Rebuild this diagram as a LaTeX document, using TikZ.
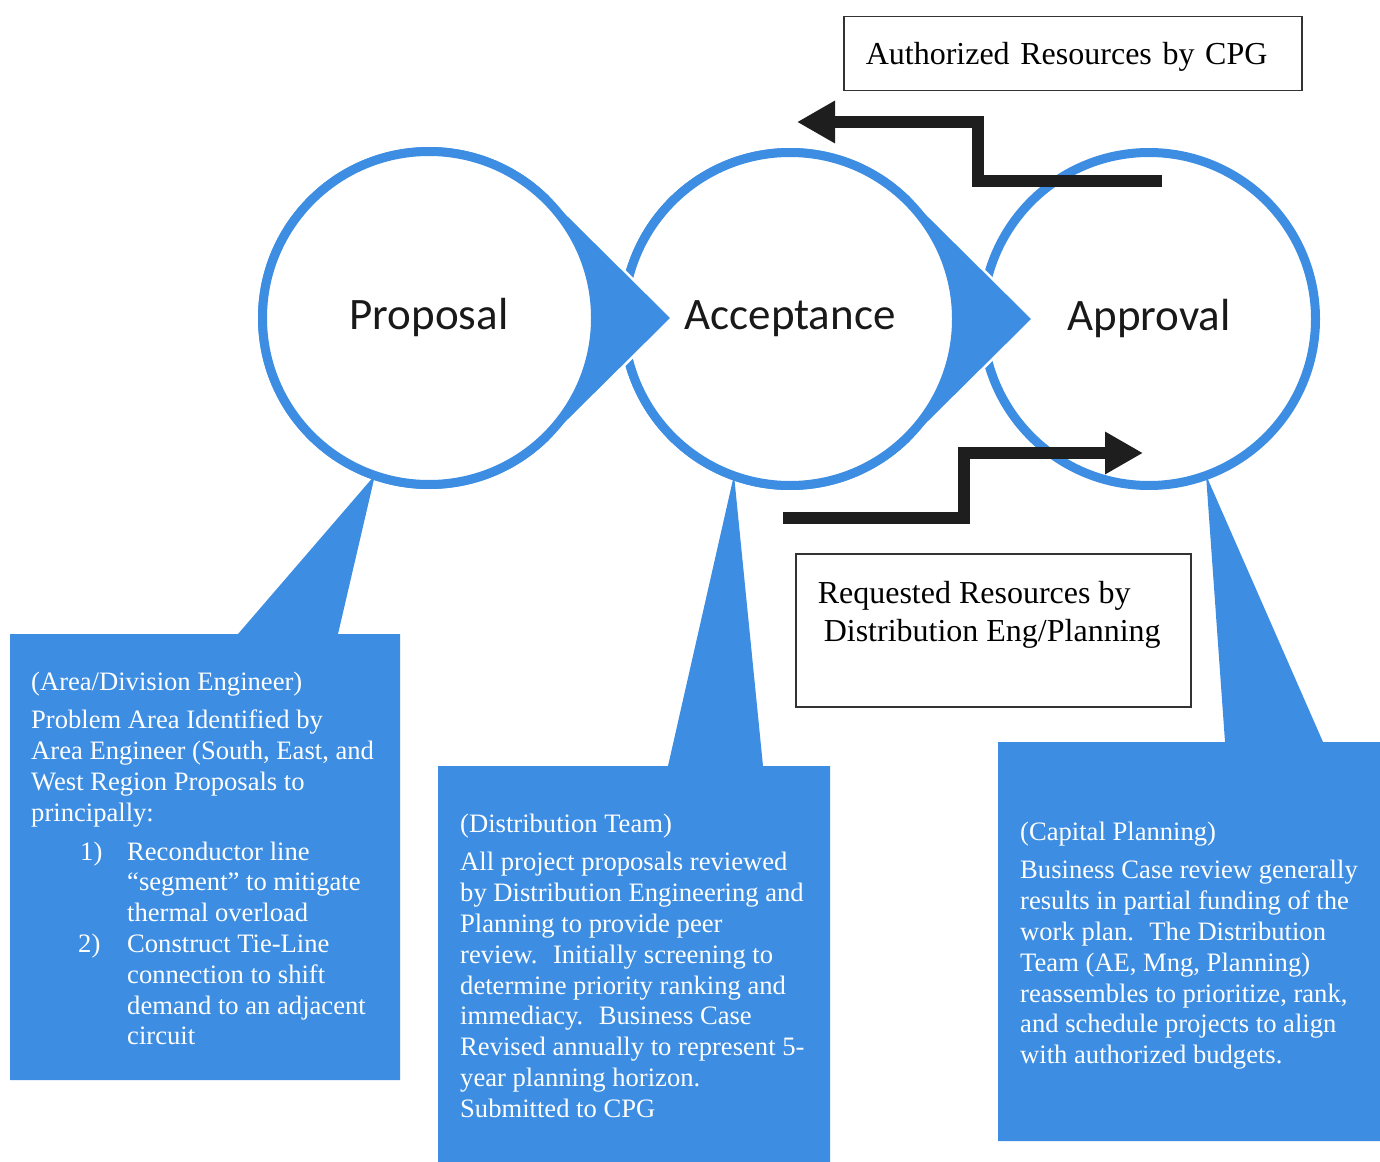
\documentclass[tikz,border=0pt]{standalone}
\usepackage{fontspec}
\usepackage{xcolor}
\usepackage{tikz}
\usetikzlibrary{calc, arrows.meta, positioning}

\newfontfamily\stagefont{Carlito}
\newfontfamily\notefont{Liberation Serif}

\definecolor{stageBlue}{RGB}{61,142,226}
\definecolor{arrowBlack}{RGB}{30,30,30}

\tikzset{
	stage/.style = {circle, draw = stageBlue, fill = white, line width = 9pt, minimum size = 333pt, inner sep = 0pt,
		font = \stagefont\fontsize{45}{54}\selectfont, text = black!90},
	note/.style = {anchor = north west, inner sep = 0pt, align = left, text = white,
		font = \notefont\fontsize{26.6}{30.8}\selectfont},
	resbox/.style = {draw = black!80, line width = 1.5pt, inner xsep = 22pt, inner ysep = 0pt,
		font = \notefont\fontsize{32}{38}\selectfont, align = left},
	resarrow/.style = {draw = arrowBlack, line width = 12pt, -{Triangle[length = 38pt, width = 40pt]}}
}

\begin{document}
\begin{tikzpicture}[x = 1pt, y = -1pt]
	\def\ringO{171};
	\def\tipD{243};
	\def\tipA{45.3};
	\def\tipB{314.7};

	\newcommand{\drawPointer}[1]
	{
		\fill [stageBlue] ($(#1)+(\tipD,0)$) -- ($(#1)+(\tipA:\ringO)$)
			arc [start angle = \tipA, end angle = \tipB, radius = \ringO] -- cycle;
		\draw [white, line width = 2.5pt] ($(#1)+(\tipB:\ringO)$) -- ($(#1)+(\tipD,0)$) -- ($(#1)+(\tipA:\ringO)$)
	}

	% left, top, right, bottom, pointer base left, pointer tip, pointer base right
	\newcommand{\drawCallout}[7]
	{
		\fill [stageBlue] (#1,#2) -- (#5,#2) -- (#6) -- (#7,#2) -- (#3,#2) -- (#3,#4) -- (#1,#4) -- cycle
	}

	\useasboundingbox (0,0) rectangle (1380,1161);

	\begin{scope}
		\drawCallout{10}{634}{400}{1080}{238}{375,475}{338};
		\drawCallout{438}{766}{830}{1180}{668}{734,475}{763};
		\drawCallout{998}{742}{1400}{1141}{1225}{1206,475}{1323};
	\end{scope}

	\coordinate (proC) at (429,318);
	\coordinate (accC) at (790,319);
	\coordinate (appC) at (1149,319);

	\begin{scope}
		\node [stage] (approval) at (appC) {Approval};
		\drawPointer{accC};
		\node [stage] (acceptance) at (accC) {Acceptance};
		\drawPointer{proC};
		\node [stage] (proposal) at (proC) {Proposal};
	\end{scope}

	% resource flows between the teams
	\coordinate (authFrom) at (1162,181);
	\coordinate (authTo) at (797,122);
	\coordinate (reqFrom) at (783,518);
	\coordinate (reqTo) at (1143,453);
	\draw [resarrow] (authFrom) -- ++(-184,0) |- (authTo);
	\draw [resarrow] (reqFrom) -- ++(181,0) |- (reqTo);

	\node [resbox, anchor = north west, text width = 414pt, minimum height = 74pt, text depth = 0pt] (authBox) at (843,16)
		{Authorized Resources by CPG};
	\node [resbox, anchor = north west, minimum width = 395pt, minimum height = 153pt] (reqBox) at (795,553) {};
	\node [resbox, draw = none, inner sep = 0pt, below right = 23.4pt and 22pt of reqBox.north west] (reqText)
		{\strut Requested Resources by\\ \hspace*{6pt}Distribution Eng/Planning};

	\node [note] (areaNote) at (31,668.4)
		{\strut(Area/Division Engineer)\\[8pt]
		Problem Area Identified by\\
		Area Engineer (South, East, and\\
		West Region Proposals to\\
		principally:\\[8pt]
		\makebox[96pt][l]{\hspace{49pt}1)}Reconductor line\\
		\hspace*{96pt}“segment” to mitigate\\
		\hspace*{96pt}thermal overload\\
		\makebox[96pt][l]{\hspace{47pt}2)}Construct Tie-Line\\
		\hspace*{96pt}connection to shift\\
		\hspace*{96pt}demand to an adjacent\\
		\hspace*{96pt}circuit};

	\node [note] (teamNote) at (460,810.4)
		{\strut(Distribution Team)\\[8pt]
		All project proposals reviewed\\
		by Distribution Engineering and\\
		Planning to provide peer\\
		review.~ Initially screening to\\
		determine priority ranking and\\
		immediacy.~ Business Case\\
		Revised annually to represent 5-\\
		year planning horizon.\\
		Submitted to CPG};

	\node [note] (capitalNote) at (1020,818.4)
		{\strut(Capital Planning)\\[8pt]
		Business Case review generally\\
		results in partial funding of the\\
		work plan.~ The Distribution\\
		Team (AE, Mng, Planning)\\
		reassembles to prioritize, rank,\\
		and schedule projects to align\\
		with authorized budgets.};
\end{tikzpicture}
\end{document}
